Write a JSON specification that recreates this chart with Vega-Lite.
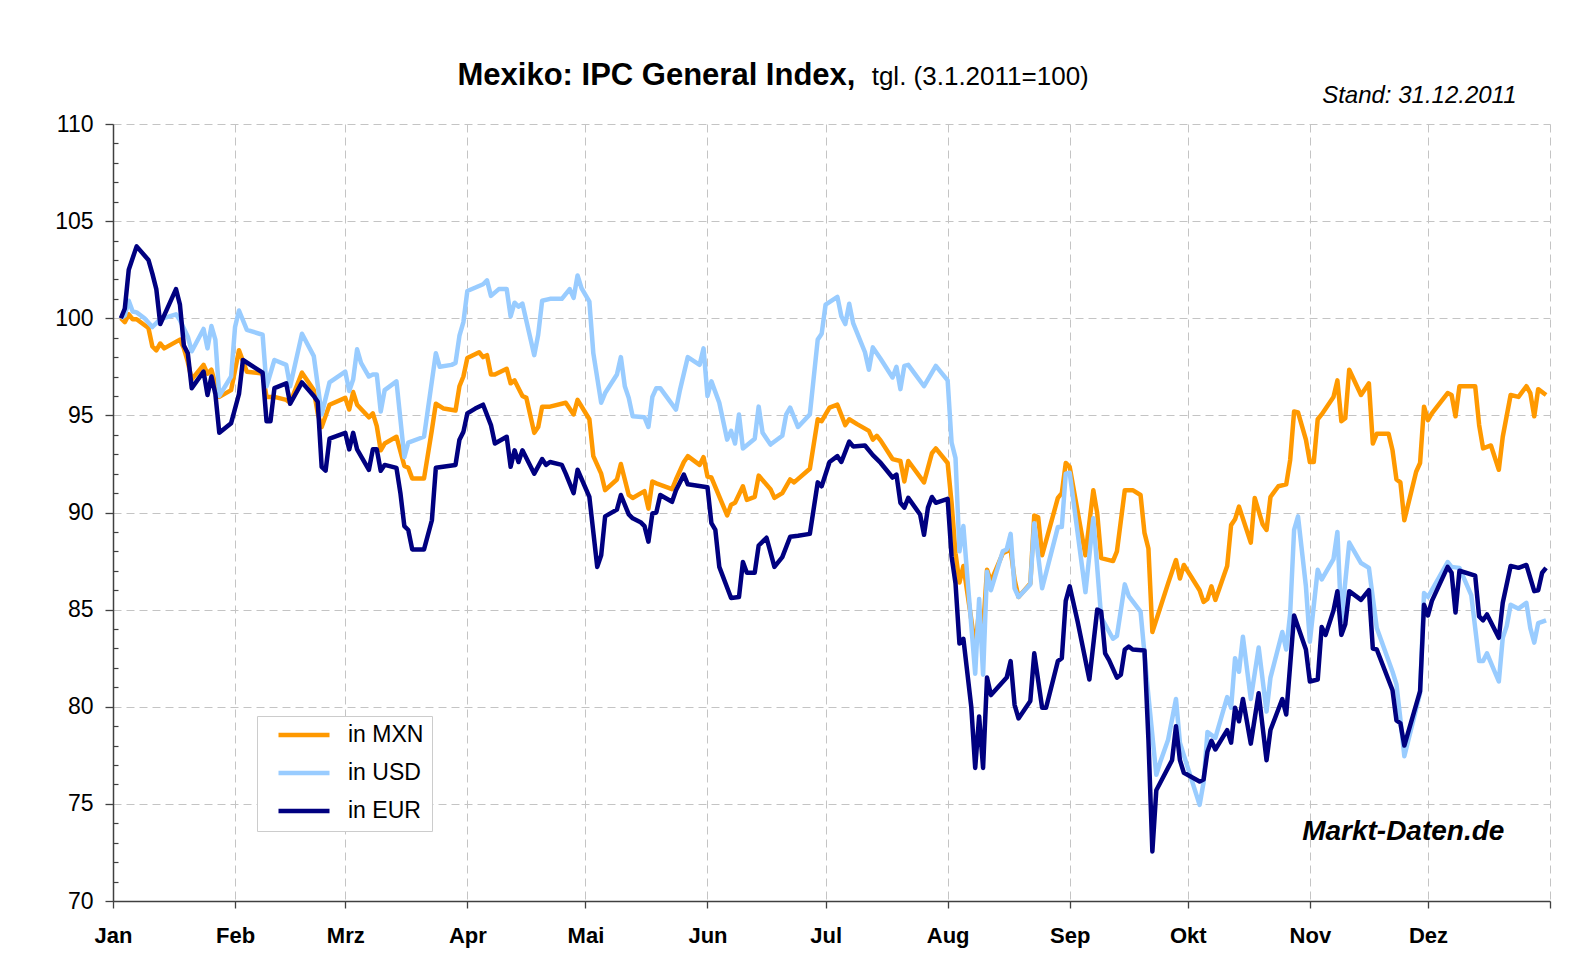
{
"$schema": "https://vega.github.io/schema/vega-lite/v6.json",
"autosize": {"type": "none"},
"width": 1437,
"height": 777,
"padding": {"left": 113, "top": 124, "right": 23, "bottom": 63},
"background": "white",
"config": {"font": "Liberation Sans", "view": {"stroke": null}},
"datasets": {
"idx": [
{"date":"2011-01-03","series":"in MXN","value":100.0},{"date":"2011-01-04","series":"in MXN","value":99.8},{"date":"2011-01-05","series":"in MXN","value":100.2},{"date":"2011-01-06","series":"in MXN","value":99.95},{"date":"2011-01-07","series":"in MXN","value":99.95},{"date":"2011-01-10","series":"in MXN","value":99.5},{"date":"2011-01-11","series":"in MXN","value":98.55},{"date":"2011-01-12","series":"in MXN","value":98.35},{"date":"2011-01-13","series":"in MXN","value":98.7},{"date":"2011-01-14","series":"in MXN","value":98.45},{"date":"2011-01-18","series":"in MXN","value":98.9},{"date":"2011-01-19","series":"in MXN","value":98.45},{"date":"2011-01-20","series":"in MXN","value":97.75},{"date":"2011-01-21","series":"in MXN","value":96.85},{"date":"2011-01-24","series":"in MXN","value":97.6},{"date":"2011-01-25","series":"in MXN","value":97.15},{"date":"2011-01-26","series":"in MXN","value":97.35},{"date":"2011-01-27","series":"in MXN","value":96.6},{"date":"2011-01-28","series":"in MXN","value":95.95},{"date":"2011-01-31","series":"in MXN","value":96.3},
{"date":"2011-02-02","series":"in MXN","value":98.35},{"date":"2011-02-04","series":"in MXN","value":97.25},{"date":"2011-02-08","series":"in MXN","value":97.15},{"date":"2011-02-09","series":"in MXN","value":95.95},{"date":"2011-02-11","series":"in MXN","value":95.95},{"date":"2011-02-14","series":"in MXN","value":95.8},{"date":"2011-02-15","series":"in MXN","value":95.65},{"date":"2011-02-18","series":"in MXN","value":97.2},{"date":"2011-02-21","series":"in MXN","value":96.3},{"date":"2011-02-22","series":"in MXN","value":95.1},{"date":"2011-02-23","series":"in MXN","value":94.4},{"date":"2011-02-25","series":"in MXN","value":95.55},
{"date":"2011-03-01","series":"in MXN","value":95.9},{"date":"2011-03-02","series":"in MXN","value":95.3},{"date":"2011-03-03","series":"in MXN","value":96.2},{"date":"2011-03-04","series":"in MXN","value":95.55},{"date":"2011-03-07","series":"in MXN","value":94.9},{"date":"2011-03-08","series":"in MXN","value":95.1},{"date":"2011-03-09","series":"in MXN","value":94.45},{"date":"2011-03-10","series":"in MXN","value":93.2},{"date":"2011-03-11","series":"in MXN","value":93.55},{"date":"2011-03-14","series":"in MXN","value":93.9},{"date":"2011-03-16","series":"in MXN","value":92.4},{"date":"2011-03-17","series":"in MXN","value":92.3},{"date":"2011-03-18","series":"in MXN","value":91.75},{"date":"2011-03-21","series":"in MXN","value":91.75},{"date":"2011-03-23","series":"in MXN","value":94.25},{"date":"2011-03-24","series":"in MXN","value":95.6},{"date":"2011-03-26","series":"in MXN","value":95.35},{"date":"2011-03-29","series":"in MXN","value":95.25},{"date":"2011-03-30","series":"in MXN","value":96.5},{"date":"2011-03-31","series":"in MXN","value":97.0},
{"date":"2011-04-01","series":"in MXN","value":97.95},{"date":"2011-04-04","series":"in MXN","value":98.25},{"date":"2011-04-05","series":"in MXN","value":98.0},{"date":"2011-04-06","series":"in MXN","value":98.1},{"date":"2011-04-07","series":"in MXN","value":97.1},{"date":"2011-04-08","series":"in MXN","value":97.1},{"date":"2011-04-11","series":"in MXN","value":97.4},{"date":"2011-04-12","series":"in MXN","value":96.65},{"date":"2011-04-13","series":"in MXN","value":96.8},{"date":"2011-04-15","series":"in MXN","value":96.0},{"date":"2011-04-16","series":"in MXN","value":95.9},{"date":"2011-04-18","series":"in MXN","value":94.1},{"date":"2011-04-19","series":"in MXN","value":94.4},{"date":"2011-04-20","series":"in MXN","value":95.45},{"date":"2011-04-22","series":"in MXN","value":95.45},{"date":"2011-04-26","series":"in MXN","value":95.65},{"date":"2011-04-28","series":"in MXN","value":95.05},{"date":"2011-04-29","series":"in MXN","value":95.8},
{"date":"2011-05-02","series":"in MXN","value":94.8},{"date":"2011-05-03","series":"in MXN","value":92.9},{"date":"2011-05-05","series":"in MXN","value":92.0},{"date":"2011-05-06","series":"in MXN","value":91.15},{"date":"2011-05-09","series":"in MXN","value":91.7},{"date":"2011-05-10","series":"in MXN","value":92.5},{"date":"2011-05-12","series":"in MXN","value":90.9},{"date":"2011-05-13","series":"in MXN","value":90.75},{"date":"2011-05-16","series":"in MXN","value":91.1},{"date":"2011-05-17","series":"in MXN","value":90.2},{"date":"2011-05-18","series":"in MXN","value":91.6},{"date":"2011-05-19","series":"in MXN","value":91.5},{"date":"2011-05-23","series":"in MXN","value":91.2},{"date":"2011-05-24","series":"in MXN","value":91.7},{"date":"2011-05-26","series":"in MXN","value":92.6},{"date":"2011-05-27","series":"in MXN","value":92.9},{"date":"2011-05-30","series":"in MXN","value":92.45},{"date":"2011-05-31","series":"in MXN","value":92.85},
{"date":"2011-06-01","series":"in MXN","value":91.85},{"date":"2011-06-02","series":"in MXN","value":91.8},{"date":"2011-06-06","series":"in MXN","value":89.85},{"date":"2011-06-07","series":"in MXN","value":90.4},{"date":"2011-06-08","series":"in MXN","value":90.5},{"date":"2011-06-10","series":"in MXN","value":91.35},{"date":"2011-06-11","series":"in MXN","value":90.65},{"date":"2011-06-13","series":"in MXN","value":90.8},{"date":"2011-06-14","series":"in MXN","value":91.9},{"date":"2011-06-17","series":"in MXN","value":91.2},{"date":"2011-06-18","series":"in MXN","value":90.75},{"date":"2011-06-20","series":"in MXN","value":91.0},{"date":"2011-06-22","series":"in MXN","value":91.7},{"date":"2011-06-23","series":"in MXN","value":91.55},{"date":"2011-06-27","series":"in MXN","value":92.25},{"date":"2011-06-29","series":"in MXN","value":94.8},{"date":"2011-06-30","series":"in MXN","value":94.7},
{"date":"2011-07-02","series":"in MXN","value":95.4},{"date":"2011-07-04","series":"in MXN","value":95.55},{"date":"2011-07-06","series":"in MXN","value":94.5},{"date":"2011-07-07","series":"in MXN","value":94.8},{"date":"2011-07-09","series":"in MXN","value":94.55},{"date":"2011-07-12","series":"in MXN","value":94.2},{"date":"2011-07-13","series":"in MXN","value":93.75},{"date":"2011-07-14","series":"in MXN","value":93.95},{"date":"2011-07-15","series":"in MXN","value":93.7},{"date":"2011-07-18","series":"in MXN","value":92.75},{"date":"2011-07-20","series":"in MXN","value":92.65},{"date":"2011-07-21","series":"in MXN","value":91.6},{"date":"2011-07-22","series":"in MXN","value":92.65},{"date":"2011-07-26","series":"in MXN","value":91.55},{"date":"2011-07-27","series":"in MXN","value":92.3},{"date":"2011-07-28","series":"in MXN","value":93.05},{"date":"2011-07-29","series":"in MXN","value":93.3},
{"date":"2011-08-01","series":"in MXN","value":92.55},{"date":"2011-08-02","series":"in MXN","value":90.5},{"date":"2011-08-03","series":"in MXN","value":87.9},{"date":"2011-08-04","series":"in MXN","value":86.4},{"date":"2011-08-05","series":"in MXN","value":87.25},{"date":"2011-08-07","series":"in MXN","value":84.5},{"date":"2011-08-08","series":"in MXN","value":83.0},{"date":"2011-08-09","series":"in MXN","value":85.0},{"date":"2011-08-10","series":"in MXN","value":84.0},{"date":"2011-08-11","series":"in MXN","value":87.05},{"date":"2011-08-12","series":"in MXN","value":86.45},{"date":"2011-08-15","series":"in MXN","value":87.9},{"date":"2011-08-17","series":"in MXN","value":88.1},{"date":"2011-08-18","series":"in MXN","value":86.55},{"date":"2011-08-19","series":"in MXN","value":85.65},{"date":"2011-08-22","series":"in MXN","value":86.35},{"date":"2011-08-23","series":"in MXN","value":89.85},{"date":"2011-08-24","series":"in MXN","value":89.75},{"date":"2011-08-25","series":"in MXN","value":87.8},{"date":"2011-08-29","series":"in MXN","value":90.75},{"date":"2011-08-30","series":"in MXN","value":91.0},{"date":"2011-08-31","series":"in MXN","value":92.55},
{"date":"2011-09-01","series":"in MXN","value":92.35},{"date":"2011-09-05","series":"in MXN","value":87.8},{"date":"2011-09-07","series":"in MXN","value":91.15},{"date":"2011-09-08","series":"in MXN","value":89.95},{"date":"2011-09-09","series":"in MXN","value":87.65},{"date":"2011-09-12","series":"in MXN","value":87.5},{"date":"2011-09-13","series":"in MXN","value":88.0},{"date":"2011-09-15","series":"in MXN","value":91.15},{"date":"2011-09-17","series":"in MXN","value":91.15},{"date":"2011-09-19","series":"in MXN","value":90.9},{"date":"2011-09-20","series":"in MXN","value":88.95},{"date":"2011-09-21","series":"in MXN","value":88.15},{"date":"2011-09-22","series":"in MXN","value":83.85},{"date":"2011-09-26","series":"in MXN","value":86.35},{"date":"2011-09-28","series":"in MXN","value":87.55},{"date":"2011-09-29","series":"in MXN","value":86.6},{"date":"2011-09-30","series":"in MXN","value":87.3},
{"date":"2011-10-04","series":"in MXN","value":86.0},{"date":"2011-10-05","series":"in MXN","value":85.4},{"date":"2011-10-06","series":"in MXN","value":85.55},{"date":"2011-10-07","series":"in MXN","value":86.2},{"date":"2011-10-08","series":"in MXN","value":85.5},{"date":"2011-10-11","series":"in MXN","value":87.25},{"date":"2011-10-12","series":"in MXN","value":89.35},{"date":"2011-10-13","series":"in MXN","value":89.65},{"date":"2011-10-14","series":"in MXN","value":90.3},{"date":"2011-10-17","series":"in MXN","value":88.45},{"date":"2011-10-18","series":"in MXN","value":90.75},{"date":"2011-10-20","series":"in MXN","value":89.4},{"date":"2011-10-21","series":"in MXN","value":89.1},{"date":"2011-10-22","series":"in MXN","value":90.8},{"date":"2011-10-24","series":"in MXN","value":91.35},{"date":"2011-10-26","series":"in MXN","value":91.45},{"date":"2011-10-27","series":"in MXN","value":92.7},{"date":"2011-10-28","series":"in MXN","value":95.2},{"date":"2011-10-29","series":"in MXN","value":95.15},{"date":"2011-10-31","series":"in MXN","value":93.75},
{"date":"2011-11-01","series":"in MXN","value":92.6},{"date":"2011-11-02","series":"in MXN","value":92.6},{"date":"2011-11-03","series":"in MXN","value":94.8},{"date":"2011-11-04","series":"in MXN","value":95.05},{"date":"2011-11-07","series":"in MXN","value":95.95},{"date":"2011-11-08","series":"in MXN","value":96.8},{"date":"2011-11-09","series":"in MXN","value":94.7},{"date":"2011-11-10","series":"in MXN","value":94.85},{"date":"2011-11-11","series":"in MXN","value":97.35},{"date":"2011-11-14","series":"in MXN","value":96.05},{"date":"2011-11-16","series":"in MXN","value":96.65},{"date":"2011-11-17","series":"in MXN","value":93.55},{"date":"2011-11-18","series":"in MXN","value":94.05},{"date":"2011-11-21","series":"in MXN","value":94.05},{"date":"2011-11-22","series":"in MXN","value":93.2},{"date":"2011-11-23","series":"in MXN","value":91.7},{"date":"2011-11-24","series":"in MXN","value":91.55},{"date":"2011-11-25","series":"in MXN","value":89.6},{"date":"2011-11-28","series":"in MXN","value":92.1},{"date":"2011-11-29","series":"in MXN","value":92.55},{"date":"2011-11-30","series":"in MXN","value":95.45},
{"date":"2011-12-01","series":"in MXN","value":94.75},{"date":"2011-12-02","series":"in MXN","value":95.1},{"date":"2011-12-06","series":"in MXN","value":96.15},{"date":"2011-12-07","series":"in MXN","value":96.05},{"date":"2011-12-08","series":"in MXN","value":94.95},{"date":"2011-12-09","series":"in MXN","value":96.5},{"date":"2011-12-13","series":"in MXN","value":96.5},{"date":"2011-12-14","series":"in MXN","value":94.5},{"date":"2011-12-15","series":"in MXN","value":93.3},{"date":"2011-12-17","series":"in MXN","value":93.45},{"date":"2011-12-19","series":"in MXN","value":92.2},{"date":"2011-12-20","series":"in MXN","value":93.9},{"date":"2011-12-22","series":"in MXN","value":96.05},{"date":"2011-12-24","series":"in MXN","value":95.95},{"date":"2011-12-26","series":"in MXN","value":96.5},{"date":"2011-12-27","series":"in MXN","value":96.15},{"date":"2011-12-28","series":"in MXN","value":94.95},{"date":"2011-12-29","series":"in MXN","value":96.35},{"date":"2011-12-31","series":"in MXN","value":96.05},

{"date":"2011-01-03","series":"in USD","value":100.0},{"date":"2011-01-04","series":"in USD","value":100.15},{"date":"2011-01-05","series":"in USD","value":100.9},{"date":"2011-01-06","series":"in USD","value":100.35},{"date":"2011-01-07","series":"in USD","value":100.3},{"date":"2011-01-09","series":"in USD","value":100.0},{"date":"2011-01-11","series":"in USD","value":99.55},{"date":"2011-01-13","series":"in USD","value":99.95},{"date":"2011-01-17","series":"in USD","value":100.2},{"date":"2011-01-18","series":"in USD","value":99.9},{"date":"2011-01-20","series":"in USD","value":99.05},{"date":"2011-01-21","series":"in USD","value":98.3},{"date":"2011-01-24","series":"in USD","value":99.45},{"date":"2011-01-25","series":"in USD","value":98.45},{"date":"2011-01-26","series":"in USD","value":99.6},{"date":"2011-01-27","series":"in USD","value":98.9},{"date":"2011-01-28","series":"in USD","value":96.0},{"date":"2011-01-31","series":"in USD","value":97.0},
{"date":"2011-02-01","series":"in USD","value":99.55},{"date":"2011-02-02","series":"in USD","value":100.4},{"date":"2011-02-04","series":"in USD","value":99.4},{"date":"2011-02-08","series":"in USD","value":99.15},{"date":"2011-02-09","series":"in USD","value":96.5},{"date":"2011-02-11","series":"in USD","value":97.85},{"date":"2011-02-14","series":"in USD","value":97.6},{"date":"2011-02-15","series":"in USD","value":96.5},{"date":"2011-02-18","series":"in USD","value":99.2},{"date":"2011-02-21","series":"in USD","value":98.05},{"date":"2011-02-23","series":"in USD","value":95.05},{"date":"2011-02-25","series":"in USD","value":96.7},
{"date":"2011-03-01","series":"in USD","value":97.25},{"date":"2011-03-02","series":"in USD","value":96.25},{"date":"2011-03-03","series":"in USD","value":96.85},{"date":"2011-03-04","series":"in USD","value":98.4},{"date":"2011-03-05","series":"in USD","value":97.7},{"date":"2011-03-07","series":"in USD","value":97.0},{"date":"2011-03-08","series":"in USD","value":97.1},{"date":"2011-03-09","series":"in USD","value":97.1},{"date":"2011-03-10","series":"in USD","value":95.2},{"date":"2011-03-11","series":"in USD","value":96.3},{"date":"2011-03-14","series":"in USD","value":96.75},{"date":"2011-03-16","series":"in USD","value":92.85},{"date":"2011-03-17","series":"in USD","value":93.6},{"date":"2011-03-21","series":"in USD","value":93.9},{"date":"2011-03-24","series":"in USD","value":98.2},{"date":"2011-03-25","series":"in USD","value":97.5},{"date":"2011-03-28","series":"in USD","value":97.6},{"date":"2011-03-29","series":"in USD","value":97.7},{"date":"2011-03-30","series":"in USD","value":99.1},{"date":"2011-03-31","series":"in USD","value":99.8},
{"date":"2011-04-01","series":"in USD","value":101.4},{"date":"2011-04-05","series":"in USD","value":101.75},{"date":"2011-04-06","series":"in USD","value":101.95},{"date":"2011-04-07","series":"in USD","value":101.15},{"date":"2011-04-09","series":"in USD","value":101.5},{"date":"2011-04-11","series":"in USD","value":101.5},{"date":"2011-04-12","series":"in USD","value":100.1},{"date":"2011-04-13","series":"in USD","value":100.8},{"date":"2011-04-14","series":"in USD","value":100.6},{"date":"2011-04-15","series":"in USD","value":100.75},{"date":"2011-04-18","series":"in USD","value":98.1},{"date":"2011-04-19","series":"in USD","value":99.15},{"date":"2011-04-20","series":"in USD","value":100.9},{"date":"2011-04-22","series":"in USD","value":101.0},{"date":"2011-04-25","series":"in USD","value":101.0},{"date":"2011-04-27","series":"in USD","value":101.5},{"date":"2011-04-28","series":"in USD","value":101.05},{"date":"2011-04-29","series":"in USD","value":102.2},{"date":"2011-04-30","series":"in USD","value":101.55},
{"date":"2011-05-02","series":"in USD","value":100.85},{"date":"2011-05-03","series":"in USD","value":98.2},{"date":"2011-05-05","series":"in USD","value":95.65},{"date":"2011-05-06","series":"in USD","value":96.15},{"date":"2011-05-09","series":"in USD","value":97.1},{"date":"2011-05-10","series":"in USD","value":98.0},{"date":"2011-05-11","series":"in USD","value":96.5},{"date":"2011-05-12","series":"in USD","value":95.9},{"date":"2011-05-13","series":"in USD","value":94.95},{"date":"2011-05-16","series":"in USD","value":94.9},{"date":"2011-05-17","series":"in USD","value":94.4},{"date":"2011-05-18","series":"in USD","value":95.95},{"date":"2011-05-19","series":"in USD","value":96.4},{"date":"2011-05-20","series":"in USD","value":96.4},{"date":"2011-05-24","series":"in USD","value":95.3},{"date":"2011-05-25","series":"in USD","value":96.3},{"date":"2011-05-27","series":"in USD","value":98.0},{"date":"2011-05-30","series":"in USD","value":97.6},{"date":"2011-05-31","series":"in USD","value":98.45},
{"date":"2011-06-01","series":"in USD","value":96.0},{"date":"2011-06-02","series":"in USD","value":96.75},{"date":"2011-06-04","series":"in USD","value":95.65},{"date":"2011-06-06","series":"in USD","value":93.75},{"date":"2011-06-07","series":"in USD","value":94.2},{"date":"2011-06-08","series":"in USD","value":93.55},{"date":"2011-06-09","series":"in USD","value":95.05},{"date":"2011-06-10","series":"in USD","value":93.3},{"date":"2011-06-13","series":"in USD","value":93.8},{"date":"2011-06-14","series":"in USD","value":95.45},{"date":"2011-06-15","series":"in USD","value":94.1},{"date":"2011-06-17","series":"in USD","value":93.5},{"date":"2011-06-20","series":"in USD","value":93.95},{"date":"2011-06-21","series":"in USD","value":95.05},{"date":"2011-06-22","series":"in USD","value":95.4},{"date":"2011-06-24","series":"in USD","value":94.4},{"date":"2011-06-27","series":"in USD","value":95.05},{"date":"2011-06-29","series":"in USD","value":98.9},{"date":"2011-06-30","series":"in USD","value":99.2},
{"date":"2011-07-01","series":"in USD","value":100.7},{"date":"2011-07-04","series":"in USD","value":101.1},{"date":"2011-07-05","series":"in USD","value":100.1},{"date":"2011-07-06","series":"in USD","value":99.7},{"date":"2011-07-07","series":"in USD","value":100.75},{"date":"2011-07-08","series":"in USD","value":99.75},{"date":"2011-07-11","series":"in USD","value":98.25},{"date":"2011-07-12","series":"in USD","value":97.35},{"date":"2011-07-13","series":"in USD","value":98.5},{"date":"2011-07-15","series":"in USD","value":97.9},{"date":"2011-07-18","series":"in USD","value":96.95},{"date":"2011-07-19","series":"in USD","value":97.5},{"date":"2011-07-20","series":"in USD","value":96.35},{"date":"2011-07-21","series":"in USD","value":97.55},{"date":"2011-07-22","series":"in USD","value":97.6},{"date":"2011-07-26","series":"in USD","value":96.5},{"date":"2011-07-28","series":"in USD","value":97.2},{"date":"2011-07-29","series":"in USD","value":97.55},
{"date":"2011-08-01","series":"in USD","value":96.8},{"date":"2011-08-02","series":"in USD","value":93.6},{"date":"2011-08-03","series":"in USD","value":92.8},{"date":"2011-08-04","series":"in USD","value":88.0},{"date":"2011-08-05","series":"in USD","value":89.3},{"date":"2011-08-06","series":"in USD","value":86.7},{"date":"2011-08-08","series":"in USD","value":81.7},{"date":"2011-08-09","series":"in USD","value":85.55},{"date":"2011-08-10","series":"in USD","value":81.65},{"date":"2011-08-11","series":"in USD","value":86.95},{"date":"2011-08-12","series":"in USD","value":86.0},{"date":"2011-08-15","series":"in USD","value":88.0},{"date":"2011-08-16","series":"in USD","value":88.1},{"date":"2011-08-17","series":"in USD","value":88.9},{"date":"2011-08-18","series":"in USD","value":86.1},{"date":"2011-08-19","series":"in USD","value":85.65},{"date":"2011-08-22","series":"in USD","value":86.3},{"date":"2011-08-23","series":"in USD","value":89.45},{"date":"2011-08-25","series":"in USD","value":86.1},{"date":"2011-08-29","series":"in USD","value":89.25},{"date":"2011-08-30","series":"in USD","value":89.25},{"date":"2011-08-31","series":"in USD","value":92.0},
{"date":"2011-09-01","series":"in USD","value":92.05},{"date":"2011-09-05","series":"in USD","value":85.9},{"date":"2011-09-07","series":"in USD","value":89.7},{"date":"2011-09-09","series":"in USD","value":84.6},{"date":"2011-09-12","series":"in USD","value":83.5},{"date":"2011-09-13","series":"in USD","value":83.65},{"date":"2011-09-15","series":"in USD","value":86.3},{"date":"2011-09-16","series":"in USD","value":85.7},{"date":"2011-09-19","series":"in USD","value":84.9},{"date":"2011-09-21","series":"in USD","value":80.55},{"date":"2011-09-23","series":"in USD","value":76.5},{"date":"2011-09-24","series":"in USD","value":77.15},{"date":"2011-09-26","series":"in USD","value":78.3},{"date":"2011-09-28","series":"in USD","value":80.4},{"date":"2011-09-29","series":"in USD","value":78.15},{"date":"2011-09-30","series":"in USD","value":77.5},
{"date":"2011-10-04","series":"in USD","value":74.95},{"date":"2011-10-05","series":"in USD","value":76.1},{"date":"2011-10-06","series":"in USD","value":78.7},{"date":"2011-10-08","series":"in USD","value":78.4},{"date":"2011-10-11","series":"in USD","value":80.5},{"date":"2011-10-12","series":"in USD","value":79.95},{"date":"2011-10-13","series":"in USD","value":82.5},{"date":"2011-10-14","series":"in USD","value":81.8},{"date":"2011-10-15","series":"in USD","value":83.6},{"date":"2011-10-17","series":"in USD","value":80.4},{"date":"2011-10-19","series":"in USD","value":83.05},{"date":"2011-10-21","series":"in USD","value":79.75},{"date":"2011-10-22","series":"in USD","value":81.5},{"date":"2011-10-25","series":"in USD","value":83.85},{"date":"2011-10-26","series":"in USD","value":82.95},{"date":"2011-10-27","series":"in USD","value":84.8},{"date":"2011-10-28","series":"in USD","value":89.1},{"date":"2011-10-29","series":"in USD","value":89.8},{"date":"2011-10-31","series":"in USD","value":86.2},
{"date":"2011-11-01","series":"in USD","value":83.35},{"date":"2011-11-03","series":"in USD","value":87.05},{"date":"2011-11-04","series":"in USD","value":86.55},{"date":"2011-11-07","series":"in USD","value":87.6},{"date":"2011-11-08","series":"in USD","value":89.0},{"date":"2011-11-09","series":"in USD","value":84.4},{"date":"2011-11-11","series":"in USD","value":88.45},{"date":"2011-11-14","series":"in USD","value":87.4},{"date":"2011-11-16","series":"in USD","value":87.15},{"date":"2011-11-18","series":"in USD","value":84.05},{"date":"2011-11-22","series":"in USD","value":81.8},{"date":"2011-11-23","series":"in USD","value":81.15},{"date":"2011-11-24","series":"in USD","value":79.35},{"date":"2011-11-25","series":"in USD","value":77.45},{"date":"2011-11-29","series":"in USD","value":80.7},{"date":"2011-11-30","series":"in USD","value":85.85},
{"date":"2011-12-01","series":"in USD","value":85.65},{"date":"2011-12-06","series":"in USD","value":87.45},{"date":"2011-12-07","series":"in USD","value":87.2},{"date":"2011-12-09","series":"in USD","value":87.15},{"date":"2011-12-12","series":"in USD","value":85.75},{"date":"2011-12-14","series":"in USD","value":82.35},{"date":"2011-12-15","series":"in USD","value":82.35},{"date":"2011-12-16","series":"in USD","value":82.75},{"date":"2011-12-19","series":"in USD","value":81.3},{"date":"2011-12-20","series":"in USD","value":83.55},{"date":"2011-12-21","series":"in USD","value":84.15},{"date":"2011-12-22","series":"in USD","value":85.25},{"date":"2011-12-24","series":"in USD","value":85.05},{"date":"2011-12-26","series":"in USD","value":85.35},{"date":"2011-12-27","series":"in USD","value":84.05},{"date":"2011-12-28","series":"in USD","value":83.3},{"date":"2011-12-29","series":"in USD","value":84.3},{"date":"2011-12-31","series":"in USD","value":84.45},

{"date":"2011-01-03","series":"in EUR","value":100.0},{"date":"2011-01-04","series":"in EUR","value":100.5},{"date":"2011-01-05","series":"in EUR","value":102.5},{"date":"2011-01-07","series":"in EUR","value":103.7},{"date":"2011-01-10","series":"in EUR","value":103.0},{"date":"2011-01-11","series":"in EUR","value":102.3},{"date":"2011-01-12","series":"in EUR","value":101.5},{"date":"2011-01-13","series":"in EUR","value":99.7},{"date":"2011-01-17","series":"in EUR","value":101.5},{"date":"2011-01-18","series":"in EUR","value":100.7},{"date":"2011-01-19","series":"in EUR","value":98.6},{"date":"2011-01-20","series":"in EUR","value":98.2},{"date":"2011-01-21","series":"in EUR","value":96.4},{"date":"2011-01-24","series":"in EUR","value":97.25},{"date":"2011-01-25","series":"in EUR","value":96.05},{"date":"2011-01-26","series":"in EUR","value":97.0},{"date":"2011-01-27","series":"in EUR","value":96.1},{"date":"2011-01-28","series":"in EUR","value":94.1},{"date":"2011-01-31","series":"in EUR","value":94.6},
{"date":"2011-02-02","series":"in EUR","value":96.1},{"date":"2011-02-03","series":"in EUR","value":97.85},{"date":"2011-02-08","series":"in EUR","value":97.2},{"date":"2011-02-09","series":"in EUR","value":94.7},{"date":"2011-02-10","series":"in EUR","value":94.7},{"date":"2011-02-11","series":"in EUR","value":96.4},{"date":"2011-02-14","series":"in EUR","value":96.65},{"date":"2011-02-15","series":"in EUR","value":95.6},{"date":"2011-02-18","series":"in EUR","value":96.7},{"date":"2011-02-21","series":"in EUR","value":96.0},{"date":"2011-02-22","series":"in EUR","value":95.7},{"date":"2011-02-23","series":"in EUR","value":92.35},{"date":"2011-02-24","series":"in EUR","value":92.15},{"date":"2011-02-25","series":"in EUR","value":93.8},
{"date":"2011-03-01","series":"in EUR","value":94.1},{"date":"2011-03-02","series":"in EUR","value":93.25},{"date":"2011-03-03","series":"in EUR","value":94.1},{"date":"2011-03-04","series":"in EUR","value":93.25},{"date":"2011-03-07","series":"in EUR","value":92.2},{"date":"2011-03-08","series":"in EUR","value":93.25},{"date":"2011-03-09","series":"in EUR","value":93.25},{"date":"2011-03-10","series":"in EUR","value":92.15},{"date":"2011-03-11","series":"in EUR","value":92.45},{"date":"2011-03-14","series":"in EUR","value":92.3},{"date":"2011-03-15","series":"in EUR","value":91.0},{"date":"2011-03-16","series":"in EUR","value":89.3},{"date":"2011-03-17","series":"in EUR","value":89.1},{"date":"2011-03-18","series":"in EUR","value":88.1},{"date":"2011-03-21","series":"in EUR","value":88.1},{"date":"2011-03-23","series":"in EUR","value":89.6},{"date":"2011-03-24","series":"in EUR","value":92.3},{"date":"2011-03-29","series":"in EUR","value":92.45},{"date":"2011-03-30","series":"in EUR","value":93.75},{"date":"2011-03-31","series":"in EUR","value":94.15},
{"date":"2011-04-01","series":"in EUR","value":95.1},{"date":"2011-04-03","series":"in EUR","value":95.35},{"date":"2011-04-05","series":"in EUR","value":95.55},{"date":"2011-04-07","series":"in EUR","value":94.5},{"date":"2011-04-08","series":"in EUR","value":93.55},{"date":"2011-04-11","series":"in EUR","value":93.9},{"date":"2011-04-12","series":"in EUR","value":92.35},{"date":"2011-04-13","series":"in EUR","value":93.2},{"date":"2011-04-14","series":"in EUR","value":92.6},{"date":"2011-04-15","series":"in EUR","value":93.2},{"date":"2011-04-18","series":"in EUR","value":92.0},{"date":"2011-04-20","series":"in EUR","value":92.75},{"date":"2011-04-21","series":"in EUR","value":92.45},{"date":"2011-04-22","series":"in EUR","value":92.6},{"date":"2011-04-25","series":"in EUR","value":92.45},{"date":"2011-04-26","series":"in EUR","value":92.0},{"date":"2011-04-28","series":"in EUR","value":91.0},{"date":"2011-04-29","series":"in EUR","value":92.2},
{"date":"2011-05-02","series":"in EUR","value":90.8},{"date":"2011-05-04","series":"in EUR","value":87.2},{"date":"2011-05-05","series":"in EUR","value":87.8},{"date":"2011-05-06","series":"in EUR","value":89.8},{"date":"2011-05-09","series":"in EUR","value":90.15},{"date":"2011-05-10","series":"in EUR","value":90.9},{"date":"2011-05-12","series":"in EUR","value":89.9},{"date":"2011-05-13","series":"in EUR","value":89.7},{"date":"2011-05-15","series":"in EUR","value":89.5},{"date":"2011-05-16","series":"in EUR","value":89.3},{"date":"2011-05-17","series":"in EUR","value":88.5},{"date":"2011-05-18","series":"in EUR","value":89.95},{"date":"2011-05-19","series":"in EUR","value":90.0},{"date":"2011-05-20","series":"in EUR","value":90.9},{"date":"2011-05-23","series":"in EUR","value":90.55},{"date":"2011-05-24","series":"in EUR","value":91.15},{"date":"2011-05-26","series":"in EUR","value":91.95},{"date":"2011-05-27","series":"in EUR","value":91.45},
{"date":"2011-06-01","series":"in EUR","value":91.3},{"date":"2011-06-02","series":"in EUR","value":89.45},{"date":"2011-06-03","series":"in EUR","value":89.1},{"date":"2011-06-04","series":"in EUR","value":87.2},{"date":"2011-06-07","series":"in EUR","value":85.6},{"date":"2011-06-09","series":"in EUR","value":85.65},{"date":"2011-06-10","series":"in EUR","value":87.45},{"date":"2011-06-11","series":"in EUR","value":86.9},{"date":"2011-06-13","series":"in EUR","value":86.9},{"date":"2011-06-14","series":"in EUR","value":88.3},{"date":"2011-06-16","series":"in EUR","value":88.7},{"date":"2011-06-18","series":"in EUR","value":87.2},{"date":"2011-06-20","series":"in EUR","value":87.7},{"date":"2011-06-22","series":"in EUR","value":88.75},{"date":"2011-06-24","series":"in EUR","value":88.8},{"date":"2011-06-27","series":"in EUR","value":88.9},{"date":"2011-06-29","series":"in EUR","value":91.55},{"date":"2011-06-30","series":"in EUR","value":91.35},
{"date":"2011-07-02","series":"in EUR","value":92.6},{"date":"2011-07-04","series":"in EUR","value":92.9},{"date":"2011-07-05","series":"in EUR","value":92.6},{"date":"2011-07-07","series":"in EUR","value":93.65},{"date":"2011-07-08","series":"in EUR","value":93.4},{"date":"2011-07-11","series":"in EUR","value":93.45},{"date":"2011-07-13","series":"in EUR","value":92.95},{"date":"2011-07-15","series":"in EUR","value":92.55},{"date":"2011-07-18","series":"in EUR","value":91.8},{"date":"2011-07-19","series":"in EUR","value":91.95},{"date":"2011-07-20","series":"in EUR","value":90.5},{"date":"2011-07-21","series":"in EUR","value":90.25},{"date":"2011-07-22","series":"in EUR","value":90.75},{"date":"2011-07-25","series":"in EUR","value":89.9},{"date":"2011-07-26","series":"in EUR","value":88.85},{"date":"2011-07-27","series":"in EUR","value":90.25},{"date":"2011-07-28","series":"in EUR","value":90.8},{"date":"2011-07-29","series":"in EUR","value":90.5},
{"date":"2011-08-01","series":"in EUR","value":90.7},{"date":"2011-08-02","series":"in EUR","value":87.75},{"date":"2011-08-03","series":"in EUR","value":86.35},{"date":"2011-08-04","series":"in EUR","value":83.25},{"date":"2011-08-05","series":"in EUR","value":83.5},{"date":"2011-08-07","series":"in EUR","value":80.0},{"date":"2011-08-08","series":"in EUR","value":76.85},{"date":"2011-08-09","series":"in EUR","value":79.5},{"date":"2011-08-10","series":"in EUR","value":76.85},{"date":"2011-08-11","series":"in EUR","value":81.5},{"date":"2011-08-12","series":"in EUR","value":80.6},{"date":"2011-08-16","series":"in EUR","value":81.5},{"date":"2011-08-17","series":"in EUR","value":82.35},{"date":"2011-08-18","series":"in EUR","value":80.1},{"date":"2011-08-19","series":"in EUR","value":79.4},{"date":"2011-08-22","series":"in EUR","value":80.3},{"date":"2011-08-23","series":"in EUR","value":82.75},{"date":"2011-08-25","series":"in EUR","value":79.95},{"date":"2011-08-26","series":"in EUR","value":79.95},{"date":"2011-08-29","series":"in EUR","value":82.35},{"date":"2011-08-30","series":"in EUR","value":82.5},{"date":"2011-08-31","series":"in EUR","value":85.45},
{"date":"2011-09-01","series":"in EUR","value":86.2},{"date":"2011-09-03","series":"in EUR","value":84.4},{"date":"2011-09-06","series":"in EUR","value":81.4},{"date":"2011-09-08","series":"in EUR","value":85.0},{"date":"2011-09-09","series":"in EUR","value":84.9},{"date":"2011-09-10","series":"in EUR","value":82.75},{"date":"2011-09-11","series":"in EUR","value":82.4},{"date":"2011-09-13","series":"in EUR","value":81.5},{"date":"2011-09-14","series":"in EUR","value":81.65},{"date":"2011-09-15","series":"in EUR","value":82.95},{"date":"2011-09-16","series":"in EUR","value":83.1},{"date":"2011-09-17","series":"in EUR","value":82.95},{"date":"2011-09-20","series":"in EUR","value":82.9},{"date":"2011-09-21","series":"in EUR","value":78.3},{"date":"2011-09-22","series":"in EUR","value":72.55},{"date":"2011-09-23","series":"in EUR","value":75.7},{"date":"2011-09-27","series":"in EUR","value":77.25},{"date":"2011-09-28","series":"in EUR","value":79.0},{"date":"2011-09-29","series":"in EUR","value":77.25},{"date":"2011-09-30","series":"in EUR","value":76.6},
{"date":"2011-10-04","series":"in EUR","value":76.15},{"date":"2011-10-05","series":"in EUR","value":76.25},{"date":"2011-10-06","series":"in EUR","value":77.7},{"date":"2011-10-07","series":"in EUR","value":78.25},{"date":"2011-10-08","series":"in EUR","value":77.8},{"date":"2011-10-11","series":"in EUR","value":78.8},{"date":"2011-10-12","series":"in EUR","value":78.15},{"date":"2011-10-13","series":"in EUR","value":79.95},{"date":"2011-10-14","series":"in EUR","value":79.25},{"date":"2011-10-15","series":"in EUR","value":80.4},{"date":"2011-10-17","series":"in EUR","value":78.1},{"date":"2011-10-19","series":"in EUR","value":80.7},{"date":"2011-10-21","series":"in EUR","value":77.25},{"date":"2011-10-22","series":"in EUR","value":78.8},{"date":"2011-10-25","series":"in EUR","value":80.4},{"date":"2011-10-26","series":"in EUR","value":79.6},{"date":"2011-10-28","series":"in EUR","value":84.7},{"date":"2011-10-31","series":"in EUR","value":82.95},
{"date":"2011-11-01","series":"in EUR","value":81.3},{"date":"2011-11-03","series":"in EUR","value":81.4},{"date":"2011-11-04","series":"in EUR","value":84.1},{"date":"2011-11-05","series":"in EUR","value":83.7},{"date":"2011-11-07","series":"in EUR","value":84.95},{"date":"2011-11-08","series":"in EUR","value":85.95},{"date":"2011-11-09","series":"in EUR","value":83.7},{"date":"2011-11-10","series":"in EUR","value":84.25},{"date":"2011-11-11","series":"in EUR","value":85.95},{"date":"2011-11-14","series":"in EUR","value":85.5},{"date":"2011-11-16","series":"in EUR","value":86.0},{"date":"2011-11-17","series":"in EUR","value":83.0},{"date":"2011-11-18","series":"in EUR","value":82.95},{"date":"2011-11-22","series":"in EUR","value":80.85},{"date":"2011-11-23","series":"in EUR","value":79.3},{"date":"2011-11-24","series":"in EUR","value":79.15},{"date":"2011-11-25","series":"in EUR","value":78.0},{"date":"2011-11-29","series":"in EUR","value":80.8},{"date":"2011-11-30","series":"in EUR","value":85.25},
{"date":"2011-12-01","series":"in EUR","value":84.7},{"date":"2011-12-02","series":"in EUR","value":85.45},{"date":"2011-12-06","series":"in EUR","value":87.2},{"date":"2011-12-07","series":"in EUR","value":86.9},{"date":"2011-12-08","series":"in EUR","value":84.85},{"date":"2011-12-09","series":"in EUR","value":87.0},{"date":"2011-12-13","series":"in EUR","value":86.75},{"date":"2011-12-14","series":"in EUR","value":84.65},{"date":"2011-12-15","series":"in EUR","value":84.45},{"date":"2011-12-16","series":"in EUR","value":84.75},{"date":"2011-12-19","series":"in EUR","value":83.55},{"date":"2011-12-20","series":"in EUR","value":85.35},{"date":"2011-12-22","series":"in EUR","value":87.25},{"date":"2011-12-24","series":"in EUR","value":87.15},{"date":"2011-12-26","series":"in EUR","value":87.3},{"date":"2011-12-28","series":"in EUR","value":85.95},{"date":"2011-12-29","series":"in EUR","value":86.0},{"date":"2011-12-30","series":"in EUR","value":86.9},{"date":"2011-12-31","series":"in EUR","value":87.15}
],
"one": [{"note": 1}]
},
"layer": [
{
"data": {"name": "idx", "format": {"parse": {"date": "date:'%Y-%m-%d'"}}},
"mark": {"type": "line", "strokeWidth": 4.5, "strokeJoin": "round"},
"encoding": {
"x": {"field": "date", "type": "temporal",
"scale": {"domain": [{"year": 2011, "month": 1, "date": 1}, {"year": 2012, "month": 1, "date": 1}]},
"axis": {"title": null,
"values": [{"year": 2011, "month": 1, "date": 1}, {"year": 2011, "month": 2, "date": 1}, {"year": 2011, "month": 3, "date": 1}, {"year": 2011, "month": 4, "date": 1}, {"year": 2011, "month": 5, "date": 1}, {"year": 2011, "month": 6, "date": 1}, {"year": 2011, "month": 7, "date": 1}, {"year": 2011, "month": 8, "date": 1}, {"year": 2011, "month": 9, "date": 1}, {"year": 2011, "month": 10, "date": 1}, {"year": 2011, "month": 11, "date": 1}, {"year": 2011, "month": 12, "date": 1}, {"year": 2012, "month": 1, "date": 1}],
"labelExpr": "year(datum.value) > 2011 ? '' : ['Jan','Feb','Mrz','Apr','Mai','Jun','Jul','Aug','Sep','Okt','Nov','Dez'][month(datum.value)]",
"labelFontSize": 22, "labelFontWeight": "bold", "labelColor": "#000000", "labelFlush": false, "labelOverlap": false, "labelPadding": 17,
"tickSize": 7, "tickColor": "#404040", "tickWidth": 1.3, "domainColor": "#404040", "domainWidth": 1.5,
"grid": true, "gridColor": "#c4c4c4", "gridDash": [8, 5], "gridWidth": 1}},
"y": {"field": "value", "type": "quantitative",
"scale": {"domain": [70, 110], "nice": false, "zero": false},
"axis": {"title": null, "values": [70, 75, 80, 85, 90, 95, 100, 105, 110],
"labelFontSize": 23, "labelColor": "#000000", "labelPadding": 12,
"tickSize": 8, "tickColor": "#404040", "tickWidth": 1.3, "domainColor": "#404040", "domainWidth": 1.5,
"grid": true, "gridColor": "#c4c4c4", "gridDash": [8, 5], "gridWidth": 1}},
"color": {"field": "series", "type": "nominal",
"scale": {"domain": ["in MXN", "in USD", "in EUR"], "range": ["#FF9900", "#99CCFF", "#000080"]},
"legend": {"title": null, "orient": "none", "legendX": 144, "legendY": 592, "direction": "vertical",
"symbolType": "stroke", "symbolSize": 2601, "symbolStrokeWidth": 4.5, "symbolOffset": 11,
"labelFontSize": 23, "labelColor": "#000000", "labelOffset": 16,
"clipHeight": 22, "rowPadding": 15, "padding": 8,
"strokeColor": "#cccccc", "fillColor": "#ffffff"}}
}
},
{
"data": {"name": "one"},
"mark": {"type": "text", "align": "left", "baseline": "alphabetic", "fontSize": 31, "fontWeight": "bold", "color": "#000000"},
"encoding": {
"x": {"datum": {"year": 2011, "month": 3, "date": 29, "hours": 12}, "type": "temporal", "axis": null},
"y": {"datum": 112.0, "type": "quantitative", "axis": null},
"text": {"value": "Mexiko: IPC General Index,"}
}
},
{
"data": {"name": "one"},
"mark": {"type": "text", "align": "left", "baseline": "alphabetic", "fontSize": 26, "color": "#000000"},
"encoding": {
"x": {"datum": {"year": 2011, "month": 7, "date": 12, "hours": 17}, "type": "temporal", "axis": null},
"y": {"datum": 112.0, "type": "quantitative", "axis": null},
"text": {"value": "tgl. (3.1.2011=100)"}
}
},
{
"data": {"name": "one"},
"mark": {"type": "text", "align": "right", "baseline": "alphabetic", "fontSize": 24, "fontStyle": "italic", "color": "#000000"},
"encoding": {
"x": {"datum": {"year": 2011, "month": 12, "date": 23, "hours": 12}, "type": "temporal", "axis": null},
"y": {"datum": 111.08, "type": "quantitative", "axis": null},
"text": {"value": "Stand: 31.12.2011"}
}
},
{
"data": {"name": "one"},
"mark": {"type": "text", "align": "right", "baseline": "alphabetic", "fontSize": 28, "fontStyle": "italic", "fontWeight": "bold", "color": "#000000"},
"encoding": {
"x": {"datum": {"year": 2011, "month": 12, "date": 20, "hours": 10}, "type": "temporal", "axis": null},
"y": {"datum": 73.15, "type": "quantitative",
"axis": {"title": null, "orient": "right", "offset": -1437, "values": [71, 72, 73, 74, 76, 77, 78, 79, 81, 82, 83, 84, 86, 87, 88, 89, 91, 92, 93, 94, 96, 97, 98, 99, 101, 102, 103, 104, 106, 107, 108, 109],
"labels": false, "domain": false, "grid": false, "tickSize": 5, "tickColor": "#404040", "tickWidth": 1.2}},
"text": {"value": "Markt-Daten.de"}
}
}
],
"resolve": {"axis": {"x": "independent", "y": "independent"}}
}
